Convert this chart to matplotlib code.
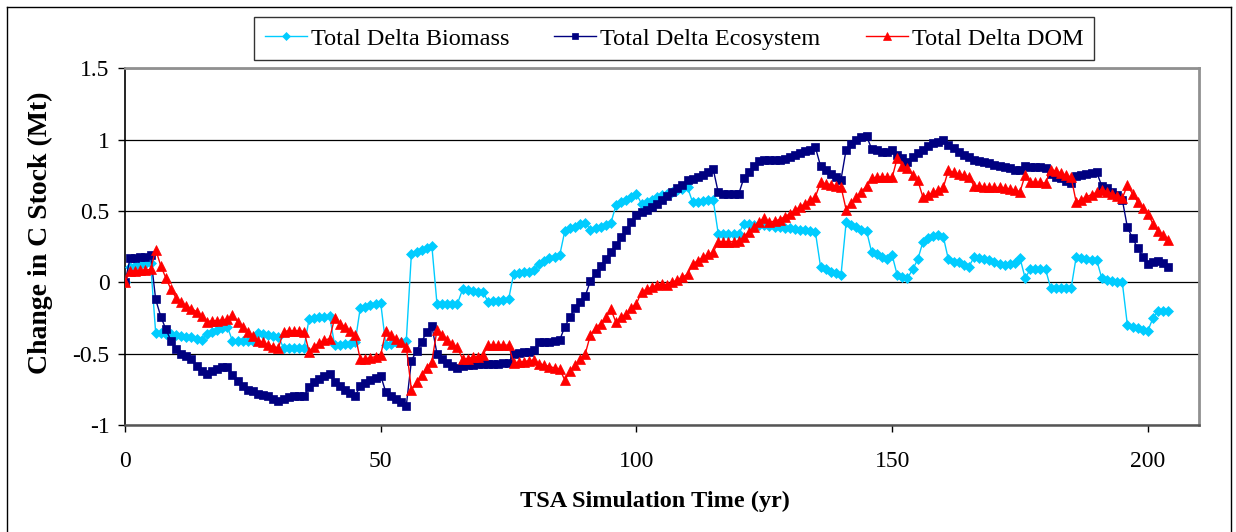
"""Change in C stock over the TSA simulation, three carbon pools."""

import matplotlib

matplotlib.use("Agg")
import matplotlib.pyplot as plt
from matplotlib.lines import Line2D

# one value per simulation year, 0..204
biomass = [
    0.0,
    0.11, 0.115, 0.12, 0.128, 0.138, -0.355, -0.355, -0.36, -0.365, -0.37,
    -0.375, -0.38, -0.385, -0.395, -0.405, -0.362, -0.345, -0.334, -0.322, -0.31,
    -0.41, -0.41, -0.41, -0.41, -0.41, -0.357, -0.362, -0.368, -0.375, -0.38,
    -0.46, -0.46, -0.46, -0.46, -0.46, -0.255, -0.25, -0.245, -0.24, -0.235,
    -0.44, -0.44, -0.435, -0.43, -0.42, -0.18, -0.17, -0.16, -0.15, -0.145,
    -0.44, -0.43, -0.42, -0.415, -0.41, 0.2, 0.21, 0.225, 0.24, 0.255,
    -0.15, -0.15, -0.15, -0.15, -0.15, -0.05, -0.055, -0.06, -0.065, -0.07,
    -0.135, -0.13, -0.128, -0.125, -0.12, 0.06, 0.065, 0.07, 0.075, 0.085,
    0.13, 0.15, 0.17, 0.18, 0.19, 0.36, 0.38, 0.39, 0.41, 0.415,
    0.37, 0.38, 0.39, 0.4, 0.415, 0.54, 0.56, 0.58, 0.6, 0.62,
    0.55, 0.565, 0.58, 0.595, 0.61, 0.62, 0.635, 0.645, 0.655, 0.665,
    0.56, 0.565, 0.57, 0.575, 0.58, 0.34, 0.34, 0.34, 0.34, 0.34,
    0.41, 0.41, 0.405, 0.4, 0.4, 0.395, 0.39, 0.385, 0.38, 0.38,
    0.375, 0.37, 0.365, 0.36, 0.35, 0.11, 0.09, 0.075, 0.063, 0.05,
    0.42, 0.4, 0.385, 0.37, 0.36, 0.21, 0.2, 0.18, 0.165, 0.19,
    0.05, 0.04, 0.03, 0.09, 0.16, 0.28, 0.31, 0.325, 0.33, 0.32,
    0.16, 0.145, 0.14, 0.12, 0.11, 0.175, 0.168, 0.16, 0.155, 0.145,
    0.128, 0.122, 0.128, 0.138, 0.17, 0.03, 0.09, 0.095, 0.095, 0.09,
    -0.04, -0.04, -0.04, -0.04, -0.04, 0.18, 0.17, 0.163, 0.158, 0.155,
    0.028, 0.016, 0.012, 0.005, 0.0, -0.3, -0.31, -0.32, -0.335, -0.34,
    -0.25, -0.2, -0.2, -0.2,
]

ecosystem = [
    0.0,
    0.17, 0.17, 0.175, 0.18, 0.19, -0.12, -0.24, -0.33, -0.41, -0.47,
    -0.5, -0.515, -0.535, -0.585, -0.625, -0.64, -0.62, -0.605, -0.595, -0.59,
    -0.65, -0.695, -0.725, -0.755, -0.765, -0.78, -0.79, -0.8, -0.815, -0.83,
    -0.815, -0.805, -0.8, -0.8, -0.8, -0.735, -0.7, -0.675, -0.66, -0.645,
    -0.7, -0.73, -0.755, -0.775, -0.795, -0.73, -0.705, -0.685, -0.67, -0.655,
    -0.77, -0.795, -0.82, -0.84, -0.865, -0.55, -0.48, -0.415, -0.35, -0.305,
    -0.5, -0.535, -0.565, -0.585, -0.6, -0.585, -0.58, -0.578, -0.575, -0.572,
    -0.57, -0.57, -0.57, -0.568, -0.565, -0.5, -0.495, -0.49, -0.485, -0.475,
    -0.415, -0.415, -0.415, -0.41, -0.405, -0.31, -0.245, -0.18, -0.135, -0.095,
    0.01, 0.063, 0.115, 0.16, 0.215, 0.26, 0.315, 0.37, 0.42, 0.47,
    0.495, 0.505, 0.53, 0.55, 0.575, 0.605, 0.635, 0.66, 0.68, 0.715,
    0.725, 0.74, 0.755, 0.775, 0.795, 0.63, 0.62, 0.62, 0.62, 0.62,
    0.73, 0.775, 0.815, 0.85, 0.86, 0.855, 0.855, 0.86, 0.865, 0.875,
    0.89, 0.905, 0.92, 0.93, 0.945, 0.815, 0.79, 0.76, 0.74, 0.72,
    0.93, 0.97, 0.995, 1.015, 1.025, 0.935, 0.925, 0.915, 0.91, 0.925,
    0.89, 0.87, 0.845, 0.88, 0.905, 0.925, 0.955, 0.973, 0.985, 0.997,
    0.96, 0.94, 0.915, 0.89, 0.875, 0.86, 0.85, 0.845, 0.833, 0.82,
    0.815, 0.805, 0.8, 0.79, 0.79, 0.815, 0.81, 0.81, 0.805, 0.8,
    0.76, 0.74, 0.73, 0.71, 0.695, 0.745, 0.75, 0.76, 0.765, 0.77,
    0.675, 0.66, 0.635, 0.61, 0.58, 0.385, 0.31, 0.24, 0.18, 0.13,
    0.145, 0.15, 0.135, 0.11,
]

dom = [
    0.0,
    0.08, 0.08, 0.085, 0.085, 0.09, 0.23, 0.115, 0.03, -0.05, -0.11,
    -0.14, -0.165, -0.185, -0.205, -0.235, -0.275, -0.27, -0.268, -0.265, -0.26,
    -0.23, -0.275, -0.31, -0.345, -0.375, -0.41, -0.42, -0.44, -0.45, -0.46,
    -0.345, -0.34, -0.34, -0.34, -0.345, -0.485, -0.45, -0.425, -0.405, -0.395,
    -0.25, -0.29, -0.31, -0.34, -0.37, -0.54, -0.535, -0.53, -0.52, -0.51,
    -0.34, -0.37, -0.4, -0.42, -0.45, -0.755, -0.7, -0.65, -0.6, -0.555,
    -0.335, -0.37, -0.405, -0.435, -0.455, -0.54, -0.535, -0.525, -0.52, -0.51,
    -0.44, -0.44, -0.44, -0.44, -0.44, -0.565, -0.56, -0.555, -0.55, -0.545,
    -0.57, -0.58, -0.59, -0.6, -0.61, -0.685, -0.625, -0.58, -0.54, -0.5,
    -0.37, -0.32, -0.29, -0.245, -0.19, -0.28, -0.245, -0.22, -0.18, -0.15,
    -0.065, -0.05, -0.035, -0.02, -0.01, -0.02, 0.0, 0.015, 0.035, 0.058,
    0.13, 0.15, 0.175, 0.195, 0.21, 0.285, 0.285, 0.285, 0.285, 0.29,
    0.32, 0.355, 0.39, 0.425, 0.45, 0.42, 0.43, 0.44, 0.46, 0.48,
    0.505, 0.53, 0.55, 0.575, 0.6, 0.7, 0.69, 0.685, 0.675, 0.67,
    0.51, 0.555, 0.595, 0.635, 0.675, 0.73, 0.735, 0.74, 0.74, 0.735,
    0.87, 0.815, 0.8, 0.75, 0.715, 0.6, 0.61, 0.63, 0.645, 0.665,
    0.785, 0.77, 0.76, 0.75, 0.74, 0.675, 0.675, 0.67, 0.665, 0.665,
    0.665, 0.66, 0.655, 0.645, 0.635, 0.75, 0.705, 0.7, 0.7, 0.695,
    0.79, 0.78, 0.765, 0.75, 0.735, 0.56, 0.58, 0.6, 0.615, 0.63,
    0.65, 0.635, 0.62, 0.605, 0.59, 0.68, 0.62, 0.565, 0.52, 0.48,
    0.41, 0.36, 0.33, 0.3,
]

years = list(range(len(biomass)))
x_ticks = [0, 50, 100, 150, 200]
y_ticks = [-1, -0.5, 0, 0.5, 1, 1.5]
y_tick_labels = ["-1", "-0.5", "0", "0.5", "1", "1.5"]

plt.rcParams["font.family"] = ["Liberation Serif", "DejaVu Serif"]

W, H = 1236, 532
fig = plt.figure(figsize=(W / 100, H / 100), dpi=100)
ax = fig.add_axes([125 / W, 1 - 425 / H, (1199 - 125) / W, (425 - 68.3) / H])

series = [
    ("Total Delta Biomass", biomass, "#00CCFF", "D", 4.8),
    ("Total Delta Ecosystem", ecosystem, "#000080", "s", 6.2),
    ("Total Delta DOM", dom, "#FF0000", "^", 7.2),
]
for label, values, color, marker, size in series:
    ax.plot(years, values, color=color, lw=1.0, marker=marker, markersize=size,
            markerfacecolor=color, markeredgecolor=color, markeredgewidth=0.5,
            label=label, zorder=3)

ax.set_xlim(0, 210)
ax.set_ylim(-1, 1.5)
ax.set_xticks(x_ticks, [str(v) for v in x_ticks])
ax.set_yticks(y_ticks, y_tick_labels)
ax.tick_params(axis="both", direction="out", length=5, width=1, color="black",
               labelsize=17)
ax.tick_params(axis="x", pad=14)
ax.tick_params(axis="y", pad=6)
ax.grid(axis="y", color="black", lw=0.9, zorder=1)
ax.set_axisbelow(True)

ax.spines["left"].set_color("black")
ax.spines["left"].set_linewidth(1.2)
ax.spines["bottom"].set_color("#555555")
ax.spines["bottom"].set_linewidth(1.8)
for side in ("top", "right"):
    ax.spines[side].set_color("#909090")
    ax.spines[side].set_linewidth(2.0)

fig.text(40 / W, 1 - 233 / H, "Change in C Stock (Mt)", rotation=90,
         ha="center", va="center", fontsize=20, fontweight="bold")
fig.text(655 / W, 1 - 501 / H, "TSA Simulation Time (yr)",
         ha="center", va="center", fontsize=17.5, fontweight="bold")

leg = fig.legend(loc="center", bbox_to_anchor=((254 + 1094) / 2 / W, 1 - 38.5 / H),
                 ncol=3, fontsize=17.5, frameon=True, fancybox=False,
                 handlelength=1.73, handletextpad=0.17, columnspacing=1.85,
                 borderpad=0.45)
leg.get_frame().set_edgecolor("black")
leg.get_frame().set_linewidth(1.0)
for handle in leg.legend_handles:
    handle.set_markersize(handle.get_markersize() * 0.8)

# outer chart border
for xs, ys in [([7, 7], [7, 540]), ([7, 1231], [7, 7]), ([1231, 1231], [7, 540])]:
    fig.add_artist(Line2D([x / W for x in xs], [1 - y / H for y in ys],
                          color="black", lw=1.0))

fig.savefig("out.png", dpi=100)
plt.close(fig)
